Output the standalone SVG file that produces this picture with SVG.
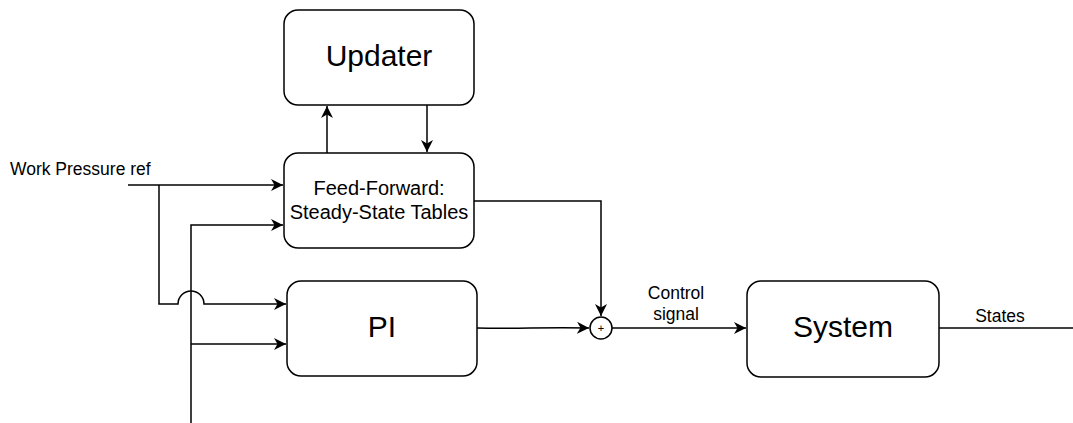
<svg xmlns="http://www.w3.org/2000/svg" width="1073" height="423" viewBox="0 0 1073 423">
<defs>
<marker id="arr" markerWidth="13" markerHeight="12" refX="12" refY="6" orient="auto" markerUnits="userSpaceOnUse">
<path d="M0,0 L12,6 L0,12 L3.5,6 Z" fill="#000"/>
</marker>
<style>
.box{fill:#fff;stroke:#000;stroke-width:1.5}
.ln{fill:none;stroke:#000;stroke-width:1.5}
.big{font-family:"Liberation Sans",Arial,sans-serif;font-size:30px;fill:#000;text-anchor:middle}
.mid{font-family:"Liberation Sans",Arial,sans-serif;font-size:20px;fill:#000;text-anchor:middle}
.sm{font-family:"Liberation Sans",Arial,sans-serif;font-size:17.5px;fill:#000}
</style>
</defs>
<rect width="1073" height="423" fill="#fff"/>
<g id="connectors">
<path class="ln" d="M327,153 V106" marker-end="url(#arr)"/>
<path class="ln" d="M427,105 V152" marker-end="url(#arr)"/>
<path class="ln" d="M128,185 H283" marker-end="url(#arr)"/>
<path class="ln" d="M159,185 V304 H178 A13,13 0 0 1 204,304 H286" marker-end="url(#arr)"/>
<path class="ln" d="M191,423 V225 H283" marker-end="url(#arr)"/>
<path class="ln" d="M191,344 H286" marker-end="url(#arr)"/>
<path class="ln" d="M474,201 H601 V316" marker-end="url(#arr)"/>
<path class="ln" d="M477,328 C520,329 540,327 589,328" marker-end="url(#arr)"/>
<path class="ln" d="M612,328 H746" marker-end="url(#arr)"/>
<path class="ln" d="M939,328 H1073"/>
</g>
<g id="updater">
<rect class="box" x="284" y="10" width="190" height="95" rx="14"/>
<text class="big" x="379" y="66">Updater</text>
</g>
<g id="feedforward">
<rect class="box" x="284" y="153" width="190" height="95" rx="14"/>
<text class="mid" x="379" y="195">Feed-Forward:</text>
<text class="mid" x="379" y="219">Steady-State Tables</text>
</g>
<g id="pi">
<rect class="box" x="287" y="281" width="190" height="95" rx="14"/>
<text class="big" x="382" y="337">PI</text>
</g>
<g id="sum">
<circle class="box" cx="601" cy="328" r="11"/>
<text x="601" y="332" font-family="Liberation Sans,Arial,sans-serif" font-size="11" text-anchor="middle">+</text>
</g>
<g id="system">
<rect class="box" x="747" y="281" width="192" height="96" rx="14"/>
<text class="big" x="843" y="337">System</text>
</g>
<g id="labels">
<text class="sm" x="10" y="175">Work Pressure ref</text>
<text class="sm" x="676" y="299" text-anchor="middle">Control</text>
<text class="sm" x="676" y="320" text-anchor="middle">signal</text>
<text class="sm" x="1000" y="322" text-anchor="middle">States</text>
</g>
</svg>
